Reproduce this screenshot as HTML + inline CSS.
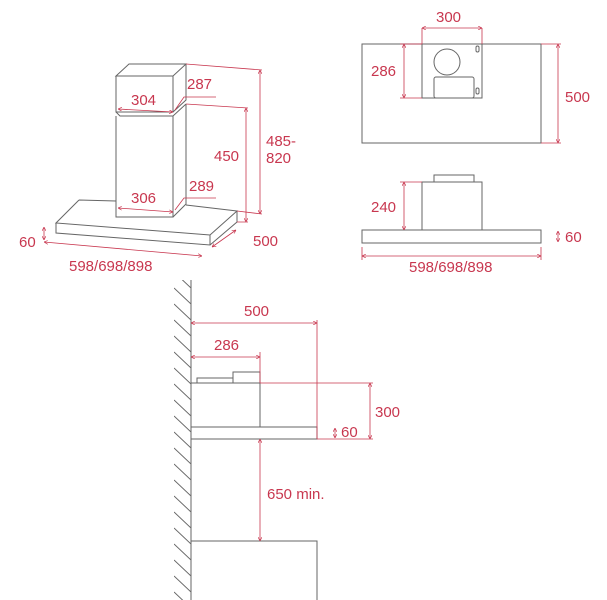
<!DOCTYPE html>
<html><head><style>body{margin:0;background:#fff}svg{display:block}text{font-family:"Liberation Sans",sans-serif;font-size:15px;fill:#c8374f}</style></head><body>
<svg width="607" height="600" viewBox="0 0 607 600">
<defs>
<marker id="a" viewBox="0 0 6 6" refX="6" refY="3" markerWidth="5" markerHeight="5" orient="auto-start-reverse"><path d="M0,0L6,3L0,6" fill="none" stroke="#c8374f" stroke-width="1"/></marker>
<pattern id="h" x="174" y="0" width="17" height="16" patternUnits="userSpaceOnUse"><path d="M0,0L17,16M0,-16L17,0M0,16L17,32" stroke="#666" stroke-width="1"/></pattern>
</defs>
<g fill="none" stroke="#666" stroke-width="1">
<path d="M116,76L129,64L186,64L173,76Z"/>
<path d="M116,76V112H173V76M173,112L186,100V64"/>
<path d="M116,112L120,116H173L186,104"/>
<path d="M116,116V217H173V116M173,217L186,204V104"/>
<path d="M79,200L116,201M186,205L237,211L210,235L56,223L79,200"/>
<path d="M56,223V233L210,245V235M210,245L237,222V211"/>
<rect x="362" y="44" width="179" height="99"/>
<path d="M422,44V98H482V44"/>
<circle cx="447" cy="62" r="13"/>
<rect x="434" y="77" width="40" height="21" rx="2"/>
<rect x="476" y="46" width="3" height="6" rx="1.5"/>
<rect x="476" y="88" width="3" height="6" rx="1.5"/>
<rect x="362" y="230" width="179" height="13"/>
<path d="M422,230V182H482V230M434,182V175H474V182"/>
<rect x="174" y="280" width="17" height="320" fill="url(#h)" stroke="none"/>
<path d="M191,280V600"/>
<path d="M191,383H260V427H191M197,383V378H233V383M233,378V372H260V383"/>
<rect x="191" y="427" width="126" height="12"/>
<path d="M191,541H317V600"/>
</g>
<g fill="none" stroke="#c8374f" stroke-width="0.8">
<path d="M186,64L262,70M237,211L262,214"/>
<path d="M260,70V214" marker-start="url(#a)" marker-end="url(#a)"/>
<path d="M186,104L248,108M237,222L248,222"/>
<path d="M246,108V222" marker-start="url(#a)" marker-end="url(#a)"/>
<path d="M118,109L173,112" marker-start="url(#a)" marker-end="url(#a)"/>
<path d="M175,110L184,97H216"/>
<path d="M118,208L173,212" marker-start="url(#a)" marker-end="url(#a)"/>
<path d="M175,210L184,198H216"/>
<path d="M44,227V240" marker-start="url(#a)" marker-end="url(#a)"/>
<path d="M44,242L202,256" marker-start="url(#a)" marker-end="url(#a)"/>
<path d="M212,247L236,230" marker-start="url(#a)" marker-end="url(#a)"/>
<path d="M422,28V44M482,28V44"/>
<path d="M422,28H482" marker-start="url(#a)" marker-end="url(#a)"/>
<path d="M404,44V98" marker-start="url(#a)" marker-end="url(#a)"/>
<path d="M400,44H422M400,98H422"/>
<path d="M541,44H561M541,143H561"/>
<path d="M558,44V143" marker-start="url(#a)" marker-end="url(#a)"/>
<path d="M404,182V230" marker-start="url(#a)" marker-end="url(#a)"/>
<path d="M400,182H422"/>
<path d="M558,231V242" marker-start="url(#a)" marker-end="url(#a)"/>
<path d="M362,247V260M541,247V260"/>
<path d="M362,256H541" marker-start="url(#a)" marker-end="url(#a)"/>
<path d="M191,323H317" marker-start="url(#a)" marker-end="url(#a)"/>
<path d="M317,320V439"/>
<path d="M191,357H260" marker-start="url(#a)" marker-end="url(#a)"/>
<path d="M260,352V383"/>
<path d="M260,383H373M317,439H373"/>
<path d="M370,383V439" marker-start="url(#a)" marker-end="url(#a)"/>
<path d="M335,428V438" marker-start="url(#a)" marker-end="url(#a)"/>
<path d="M260,439V541" marker-start="url(#a)" marker-end="url(#a)"/>
</g>
<text x="187" y="89">287</text>
<text x="131" y="105">304</text>
<text x="214" y="161">450</text>
<text x="266" y="146">485-</text>
<text x="266" y="163">820</text>
<text x="189" y="191">289</text>
<text x="131" y="203">306</text>
<text x="19" y="247">60</text>
<text x="253" y="246">500</text>
<text x="69" y="271">598/698/898</text>
<text x="436" y="22">300</text>
<text x="371" y="76">286</text>
<text x="565" y="102">500</text>
<text x="371" y="212">240</text>
<text x="565" y="242">60</text>
<text x="409" y="272">598/698/898</text>
<text x="244" y="316">500</text>
<text x="214" y="350">286</text>
<text x="375" y="417">300</text>
<text x="341" y="437">60</text>
<text x="267" y="499">650 min.</text>
</svg>
</body></html>
